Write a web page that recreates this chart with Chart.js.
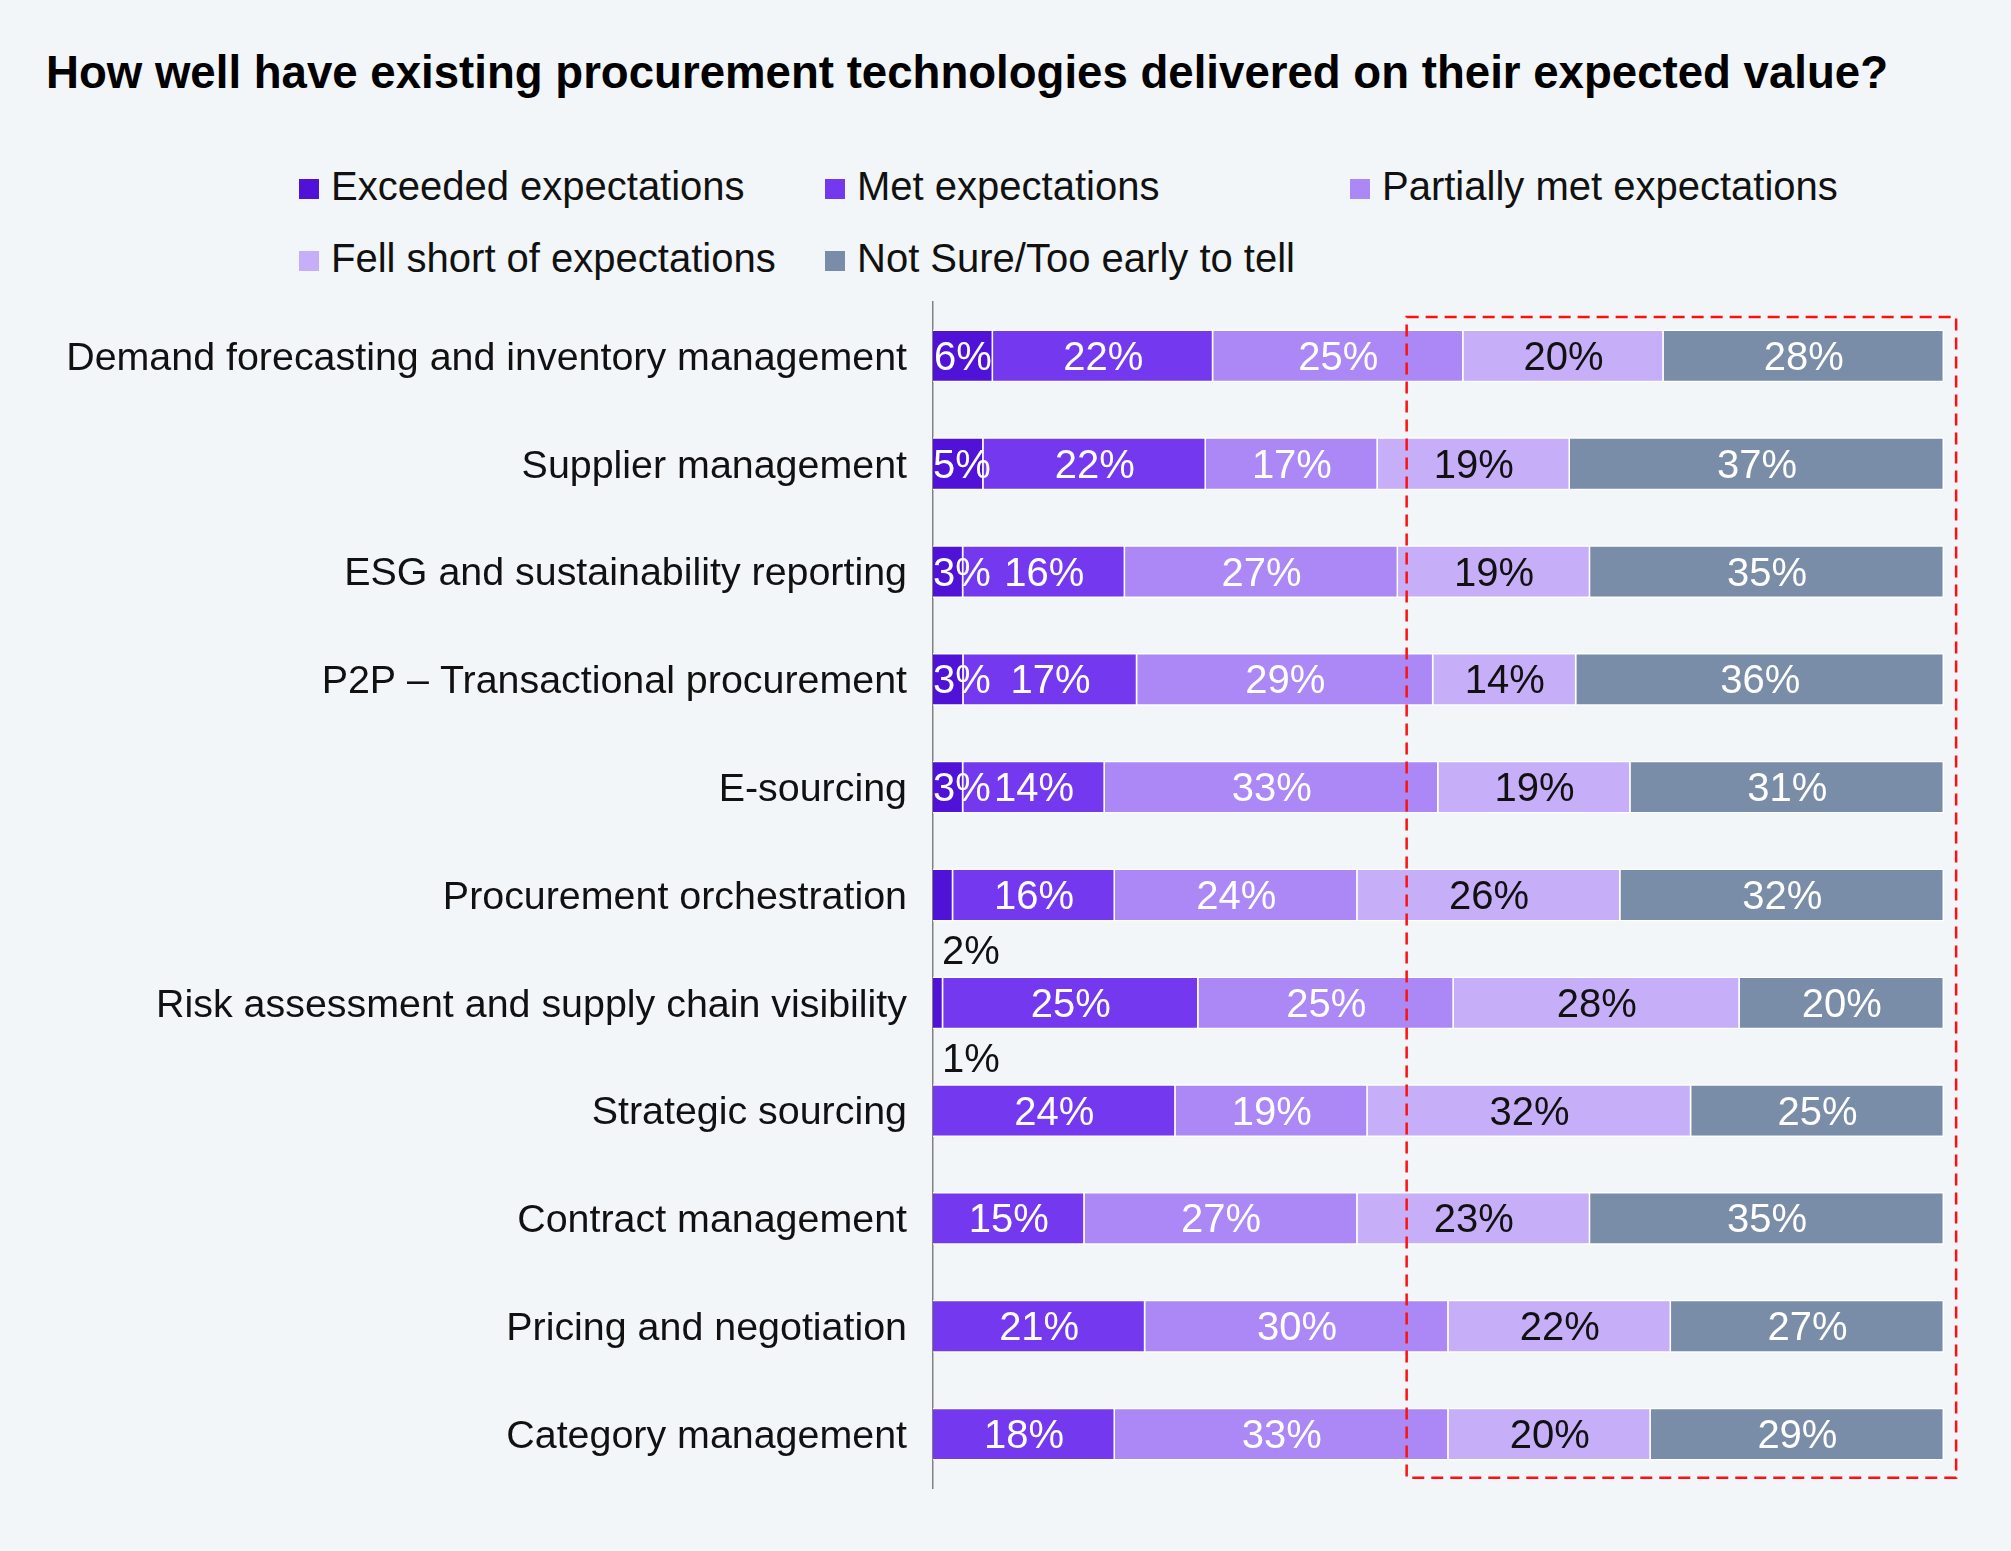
<!DOCTYPE html>
<html>
<head>
<meta charset="utf-8">
<title>Procurement technologies – delivered value</title>
<script src="https://cdn.jsdelivr.net/npm/chart.js@4.4.1/dist/chart.umd.min.js"></script>
<style>
    html, body { margin: 0; padding: 0; background: #f2f6f9; }
    #wrap {
        position: relative;
        width: 2011px;
        height: 1551px;
        font-family: "Liberation Sans", Arial, Helvetica, sans-serif;
        color: #111;
    }
    #title {
        position: absolute;
        left: 46px;
        top: 50px;
        margin: 0;
        font-size: 45.6px;
        line-height: 46px;
        font-weight: bold;
        color: #000;
        white-space: nowrap;
    }
    .legend-item { position: absolute; height: 40px; }
    .legend-item .swatch { position: absolute; left: 0; top: 13px; width: 20px; height: 20px; }
    .legend-item .text {
        position: absolute;
        left: 32px;
        top: 0;
        font-size: 40px;
        line-height: 40px;
        white-space: nowrap;
        color: #111;
    }
    #chartBox { position: absolute; left: 0; top: 0; width: 2011px; height: 1551px; }
</style>
</head>
<body>
<div id="wrap">
    <h1 id="title">How well have existing procurement technologies delivered on their expected value?</h1>
    <div id="legend"></div>
    <div id="chartBox"><canvas id="valueChart"></canvas></div>
</div>

<script>
// ===== DATA (top to bottom, % of respondents) =====
const categories = [
    'Demand forecasting and inventory management',
    'Supplier management',
    'ESG and sustainability reporting',
    'P2P – Transactional procurement',
    'E-sourcing',
    'Procurement orchestration',
    'Risk assessment and supply chain visibility',
    'Strategic sourcing',
    'Contract management',
    'Pricing and negotiation',
    'Category management'
];

const seriesNames = [
    'Exceeded expectations',
    'Met expectations',
    'Partially met expectations',
    'Fell short of expectations',
    'Not Sure/Too early to tell'
];

const exceeded      = [6, 5, 3, 3, 3, 2, 1, null, null, null, null];
const met           = [22, 22, 16, 17, 14, 16, 25, 24, 15, 21, 18];
const partiallyMet  = [25, 17, 27, 29, 33, 24, 25, 19, 27, 30, 33];
const fellShort     = [20, 19, 19, 14, 19, 26, 28, 32, 23, 22, 20];
const notSure       = [28, 37, 35, 36, 31, 32, 20, 25, 35, 27, 29];

const series = [exceeded, met, partiallyMet, fellShort, notSure];

// ===== STYLE =====
const colors      = ['#4f12d6', '#7439ef', '#ab88f5', '#c6aef8', '#798ca8'];
const labelColors = ['#ffffff', '#ffffff', '#ffffff', '#111111', '#ffffff'];
const FONT = '"Liberation Sans", Arial, Helvetica, sans-serif';
const LABEL_SIZE = 40;

// highlighted region (x in % units of the value axis)
const highlight = { from: 46.85, to: 101.2 };

// legend grid positions
const legendSlots = [[299, 166], [825, 166], [1350, 166], [299, 238], [825, 238]];

// ===== LEGEND =====
const legendEl = document.getElementById('legend');
seriesNames.forEach((name, i) => {
    const item = document.createElement('div');
    item.className = 'legend-item';
    item.style.left = legendSlots[i][0] + 'px';
    item.style.top = legendSlots[i][1] + 'px';
    item.innerHTML = `<span class="swatch" style="background:${colors[i]}"></span><span class="text">${name}</span>`;
    legendEl.appendChild(item);
});

// rows are normalised so that each bar fills the full width (labels keep the rounded figures)
const rowTotals = categories.map((_, i) => series.reduce((s, arr) => s + (arr[i] || 0), 0));

// ===== PLUGINS =====
const segmentLabels = {
    id: 'segmentLabels',
    afterDatasetsDraw(chart) {
        const { ctx, chartArea } = chart;
        ctx.save();
        ctx.font = `${LABEL_SIZE}px ${FONT}`;
        ctx.textBaseline = 'middle';
        chart.data.datasets.forEach((ds, di) => {
            const meta = chart.getDatasetMeta(di);
            meta.data.forEach((bar, i) => {
                const v = series[di][i];
                if (!v) return;
                const text = v + '%';
                const w = ctx.measureText(text).width;
                if (v <= 2) {
                    // too thin: put the figure under the bar
                    ctx.fillStyle = '#111111';
                    ctx.textAlign = 'left';
                    ctx.fillText(text, bar.base + 9, bar.y + 58);
                } else {
                    ctx.fillStyle = labelColors[di];
                    ctx.textAlign = 'center';
                    const x = Math.max((bar.x + bar.base) / 2, chartArea.left + w / 2);
                    ctx.fillText(text, x, bar.y + 3);
                }
            });
        });
        ctx.restore();
    }
};

const highlightBox = {
    id: 'highlightBox',
    afterDraw(chart) {
        const { ctx } = chart;
        const xs = chart.scales.x, ys = chart.scales.y;
        const step = ys.getPixelForValue(1) - ys.getPixelForValue(0);
        const left = xs.getPixelForValue(highlight.from);
        const right = xs.getPixelForValue(highlight.to);
        const top = ys.getPixelForValue(0) - step * 0.36;
        const bottom = ys.getPixelForValue(categories.length - 1) + step * 0.405;
        ctx.save();
        ctx.strokeStyle = '#ff1010';
        ctx.lineWidth = 2.5;
        ctx.setLineDash([12, 7]);
        ctx.strokeRect(left, top, right - left, bottom - top);
        ctx.restore();
    }
};

// ===== CHART =====
Chart.defaults.font.family = FONT;
Chart.defaults.color = '#111111';

const ctx = document.getElementById('valueChart');
new Chart(ctx, {
    type: 'bar',
    data: {
        labels: categories,
        datasets: series.map((arr, di) => ({
            label: seriesNames[di],
            data: arr.map((v, i) => (v == null ? null : v / rowTotals[i] * 100)),
            backgroundColor: colors[di],
            borderColor: '#ffffff',
            borderWidth: 1.5,
            borderSkipped: 'start',
            barPercentage: 1,
            categoryPercentage: 0.49
        }))
    },
    options: {
        indexAxis: 'y',
        responsive: true,
        maintainAspectRatio: false,
        animation: false,
        layout: { padding: { top: 302, bottom: 63, left: 0, right: 67 } },
        plugins: {
            legend: { display: false },
            title: { display: false },
            tooltip: { enabled: false }
        },
        scales: {
            x: {
                stacked: true,
                display: false,
                min: 0,
                max: 100
            },
            y: {
                stacked: true,
                grid: { display: false, drawTicks: false },
                border: { display: true, color: '#808080', width: 1.5 },
                ticks: {
                    autoSkip: false,
                    padding: 26,
                    labelOffset: 3,
                    color: '#111111',
                    font: { size: 39.4 }
                },
                afterFit(scale) { scale.width = 933; }
            }
        }
    },
    plugins: [segmentLabels, highlightBox]
});
</script>
</body>
</html>
